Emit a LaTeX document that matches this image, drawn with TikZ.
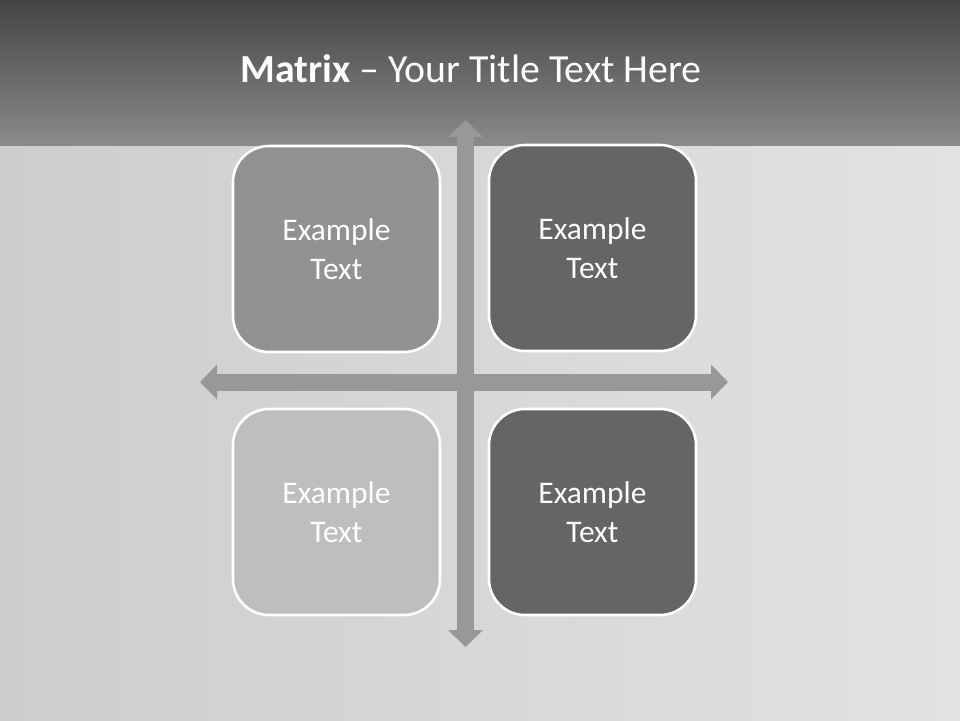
\documentclass[tikz,border=0pt]{standalone}
\usepackage{fontspec}
\setmainfont{Carlito}
\usetikzlibrary{arrows.meta}

\definecolor{barTop}{HTML}{454545}
\definecolor{barBottom}{HTML}{8A8A8A}
\definecolor{metalLeft}{HTML}{CDCDCD}
\definecolor{metalRight}{HTML}{E2E2E2}
\definecolor{axisGray}{HTML}{989898}
\definecolor{quadMid}{HTML}{919191}
\definecolor{quadDark}{HTML}{656565}
\definecolor{quadLight}{HTML}{BEBEBE}

\begin{document}
\begin{tikzpicture}[x=1pt, y=-1pt, line join=round,
	quadbox/.style={draw=white, line width=2.6pt, rounded corners=36pt,
		minimum width=207pt, minimum height=206pt, inner sep=0pt,
		text=white, align=center,
		font=\fontsize{31.5}{39}\selectfont},
	axisarrow/.style={draw=axisGray, line width=17pt,
		{Triangle[width=34pt,length=17pt]}-{Triangle[width=34pt,length=17pt]}}
	]
	
	\useasboundingbox (0,0) rectangle (960,720);
	
	% ---------- background ----------
	\shade[left color=metalLeft, right color=metalRight] (0,145) rectangle (960,720);
	\shade[top color=barTop, bottom color=barBottom] (0,0) rectangle (960,145);
	
	% ---------- title ----------
	\node[text=white, font=\fontsize{39.8}{46}\selectfont] (title) at (471,69)
	{\textbf{Matrix} -- Your Title Text Here};
	
	% ---------- axes ----------
	\coordinate (axTop) at (465.5,120);
	\coordinate (axBottom) at (465.5,647);
	\coordinate (axLeft) at (200,382);
	\coordinate (axRight) at (728,382);
	\draw[axisarrow] (axLeft) -- (axRight);
	\draw[axisarrow] (axTop) -- (axBottom);
	
	% ---------- quadrants ----------
	\node[quadbox, fill=quadMid] (qTL) at (336.5,249) {Example\\Text};
	\node[quadbox, fill=quadDark] (qTR) at (592.5,248) {Example\\Text};
	\node[quadbox, fill=quadLight] (qBL) at (336.5,512) {Example\\Text};
	\node[quadbox, fill=quadDark] (qBR) at (592.5,512) {Example\\Text};
	
\end{tikzpicture}
\end{document}
